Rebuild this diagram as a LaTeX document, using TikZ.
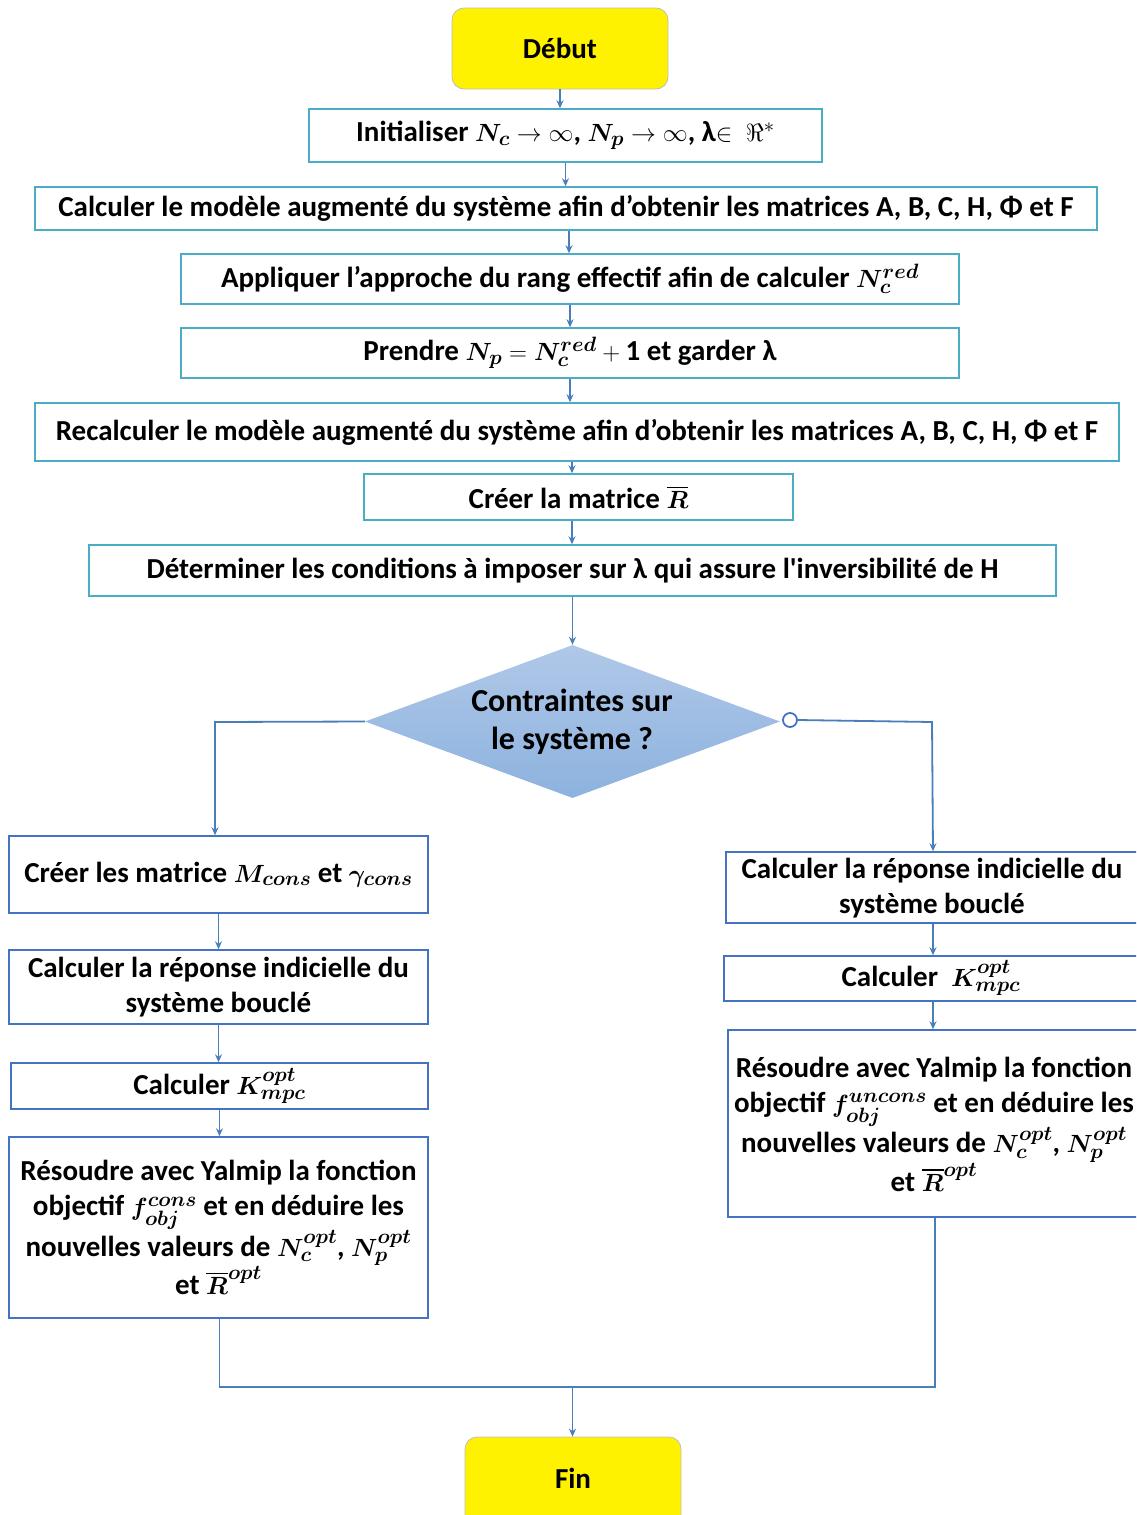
\documentclass[tikz,border=0pt]{standalone}
\usepackage{amsmath,amssymb}
\usepackage{bm}
\usepackage{fontspec}
\setmainfont{Carlito}
\newfontfamily\plainfont{Carlito}
\usetikzlibrary{arrows.meta,shapes.geometric}
\definecolor{tealb}{RGB}{75,172,198}
\definecolor{blueb}{RGB}{68,114,196}
\definecolor{conn}{RGB}{74,126,187}
\definecolor{diatop}{RGB}{176,200,232}
\definecolor{diabot}{RGB}{140,178,222}
\newcommand{\sq}{{\plainfont\bfseries'}}
\tikzset{
  txt/.style={font=\fontsize{29}{35}\selectfont\bfseries, align=center, inner sep=0pt},
  tbox/.style={txt, draw=tealb, line width=1.5pt, fill=white},
  bbox/.style={txt, draw=blueb, line width=1.5pt, fill=white},
  term/.style={txt, draw=black!25, line width=0.8pt, fill=yellow, rounded corners=12pt},
  conn/.style={draw=conn, line width=1.8pt},
  arr/.style={conn, -{Stealth[length=8pt,width=7pt]}},
}
\begin{document}
\begin{tikzpicture}[x=1pt,y=-1pt]
\useasboundingbox (0,0) rectangle (1136,1515);
\begin{scope}
\clip (0,0) rectangle (1136,1515);
% terminals
\node[term, minimum width=216pt, minimum height=81pt] (debut) at (560,48.5) {Début};
\node[term, minimum width=216pt, minimum height=90pt] (fin) at (573,1482) {};
\node[txt] (fintxt) at (573,1478) {Fin};
% main chain
\node[tbox, minimum width=513pt, minimum height=53pt] (init) at (565.5,135.5) {Initialiser $\bm{N_c}\rightarrow\infty$, $\bm{N_p}\rightarrow\infty$, λ$\in\ \Re^{*}$};
\node[tbox, minimum width=1062pt, minimum height=43pt] (calc) at (566,208.5) {Calculer le modèle augmenté du système afin d’obtenir les matrices A, B, C, H, Φ et F};
\node[tbox, minimum width=778pt, minimum height=50pt] (appl) at (570,279) {Appliquer l’approche du rang effectif afin de calculer $\bm{N_c^{red}}$};
\node[tbox, minimum width=778pt, minimum height=50pt] (prend) at (570,353) {Prendre $\bm{N_p} = \bm{N_c^{red}} + \mathbf{1}$ et garder λ};
\node[tbox, minimum width=1084pt, minimum height=58pt] (recalc) at (577,432) {Recalculer le modèle augmenté du système afin d’obtenir les matrices A, B, C, H, Φ et F};
\node[tbox, minimum width=429pt, minimum height=46pt] (creer) at (578.5,497) {Créer la matrice $\bm{\overline{R}}$};
\node[tbox, minimum width=967pt, minimum height=51pt] (determ) at (572.5,570.5) {Déterminer les conditions à imposer sur λ qui assure l\sq inversibilité de H};
% diamond
\node[diamond, shading=axis, top color=diatop, bottom color=diabot, draw=none,
      minimum width=415pt, minimum height=153pt, inner sep=0pt] (dia) at (572.5,721.5) {};
\node[txt, font=\fontsize{32}{38}\selectfont\bfseries] (diatxt) at (572,722) {Contraintes sur\\le système ?};
% left branch
\node[bbox, minimum width=419pt, minimum height=77pt] (l1) at (218.5,874.5) {Créer les matrice $\bm{M_{cons}}$ et $\bm{\gamma_{cons}}$};
\node[bbox, minimum width=419pt, minimum height=74pt] (l2) at (218.5,987) {Calculer la réponse indicielle du\\système bouclé};
\node[bbox, minimum width=417pt, minimum height=46pt] (l3) at (219.5,1086) {Calculer $\bm{K_{mpc}^{opt}}$};
\node[bbox, minimum width=419pt, minimum height=181pt] (l4) at (218.5,1227.5) {Résoudre avec Yalmip la fonction\\objectif $\bm{f_{obj}^{cons}}$ et en déduire les\\nouvelles valeurs de $\bm{N_c^{opt}}$, $\bm{N_p^{opt}}$\\et $\bm{\overline{R}^{opt}}$};
% right branch
\node[bbox, minimum width=416pt, minimum height=71pt] (r1) at (934,887.5) {};
\node[txt] (r1t) at (932,888) {Calculer la réponse indicielle du\\système bouclé};
\node[bbox, minimum width=420pt, minimum height=45pt] (r2) at (934,978.5) {};
\node[txt] (r2t) at (931,978) {Calculer\ \ $\bm{K_{mpc}^{opt}}$};
\node[bbox, minimum width=414pt, minimum height=187pt] (r3) at (935,1123.5) {};
\node[txt] (r3t) at (934,1124) {Résoudre avec Yalmip la fonction\\objectif $\bm{f_{obj}^{uncons}}$ et en déduire les\\nouvelles valeurs de $\bm{N_c^{opt}}$, $\bm{N_p^{opt}}$\\et $\bm{\overline{R}^{opt}}$};
\end{scope}
% connectors main chain
\draw[arr] (debut.south) -- (debut.south |- init.north);
\draw[arr] (init.south) -- (init.south |- calc.north);
\draw[arr] ([xshift=3pt]calc.south) -- ([xshift=3pt]calc.south |- appl.north);
\draw[arr] (appl.south) -- (appl.south |- prend.north);
\draw[arr] (prend.south) -- (prend.south |- recalc.north);
\draw[arr] ([xshift=-5pt]recalc.south) -- ([xshift=-5pt]recalc.south |- creer.north);
\draw[arr] ([xshift=-6.5pt]creer.south) -- ([xshift=-6.5pt]creer.south |- determ.north);
\draw[arr] (determ.south) -- (dia.north);
% diamond branches
\coordinate (lc) at (215,722);
\draw[arr] (dia.west) -- (lc) -- (lc |- l1.north);
\node[circle, draw=blueb, line width=1.8pt, fill=white, minimum size=14pt, inner sep=0pt] (circ) at (790,720) {};
\coordinate (rc) at (932,722);
\draw[arr] (circ.east) -- (rc) -- ([xshift=1pt]rc |- r1.north);
% left chain
\draw[arr] (l1.south) -- (l1.south |- l2.north);
\draw[arr] (l2.south) -- (l2.south |- l3.north);
\draw[arr] (l3.south) -- (l3.south |- l4.north);
% right chain
\draw[arr] ([xshift=-1pt]r1.south) -- ([xshift=-1pt]r1.south |- r2.north);
\draw[arr] ([xshift=-1pt]r2.south) -- ([xshift=-1pt]r2.south |- r3.north);
% merge
\coordinate (ml) at (219.5,1387);
\coordinate (mr) at (935,1387);
\coordinate (mm) at (572.5,1387);
\draw[conn] (l4.south -| ml) -- (ml) -- (mr) -- (r3.south -| mr);
\draw[arr] (mm) -- (mm |- fin.north);
\end{tikzpicture}
\end{document}
